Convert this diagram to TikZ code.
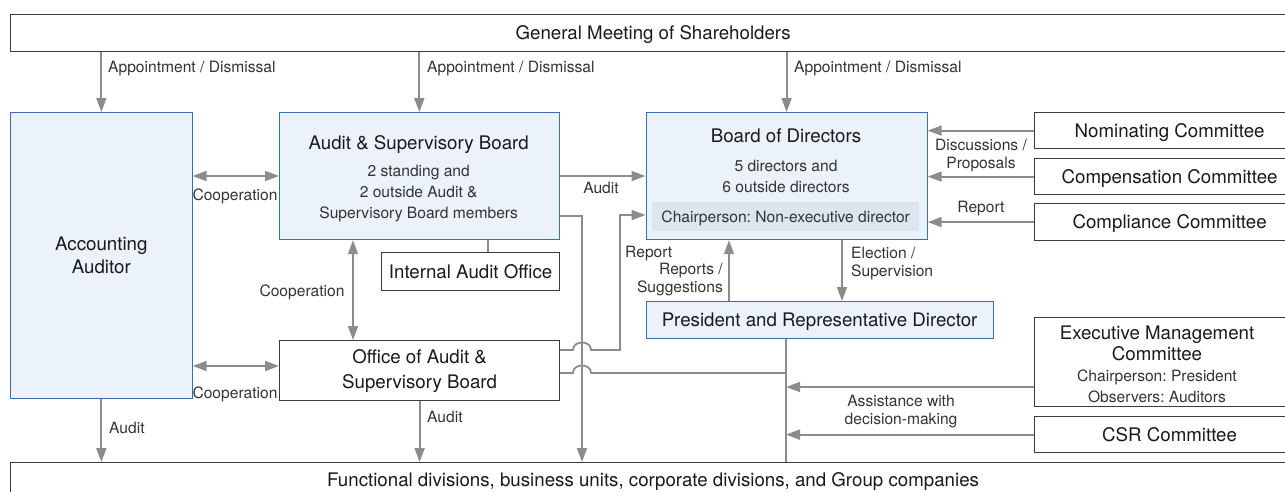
\documentclass[tikz,border=0pt]{standalone}
\usepackage{fontspec}
\setmainfont{TeX Gyre Heros}
\usetikzlibrary{arrows.meta}
\definecolor{linegray}{HTML}{8C8C8C}
\definecolor{boxline}{HTML}{3C3C3C}
\definecolor{blueline}{HTML}{3D6DB5}
\definecolor{bluefill}{HTML}{EBF2FA}
\definecolor{chairfill}{HTML}{DCE6EF}
\definecolor{maintxt}{HTML}{1A1A1A}
\definecolor{smalltxt}{HTML}{333333}
\begin{document}
\frenchspacing
\begin{tikzpicture}[x=1pt,y=-1pt,
  box/.style={draw=boxline, line width=1.2pt, fill=white, inner sep=0pt,
    anchor=north west, align=center, text=maintxt,
    font=\fontsize{18.7}{23}\selectfont},
  bluebox/.style={box, draw=blueline, fill=bluefill},
  maintext/.style={inner sep=0pt, align=center, text=maintxt,
    font=\fontsize{18.7}{23}\selectfont},
  lbl/.style={inner sep=0pt, align=center, text=smalltxt,
    font=\fontsize{15.6}{18}\selectfont},
  onemain/.style={text height=13.4pt, text depth=0pt},
  onesmall/.style={text height=11.2pt, text depth=0pt},
  conn/.style={draw=linegray, line width=1.8pt},
  arr/.style={conn, -{Triangle[length=14pt,width=10pt]}},
  arrboth/.style={conn, {Triangle[length=14pt,width=10pt]}-{Triangle[length=14pt,width=10pt]}},
]
\useasboundingbox (0,0) rectangle (1285,491);
\clip (0,0) rectangle (1285,491);

% ---------- top and bottom bands ----------
\node[box, onemain, minimum width=1285, minimum height=37] (gm) at (10,14) {General Meeting of Shareholders};
\node[box, onemain, minimum width=1285, minimum height=34] (fd) at (10,462)
  {Functional divisions, business units, corporate divisions, and Group companies};

% ---------- auditors ----------
\node[bluebox, minimum width=181.5, minimum height=286] (aa) at (10,112) {Accounting\\Auditor};

\node[bluebox, minimum width=279.5, minimum height=127] (asb) at (279,112) {};
\node[maintext, onemain] (asbtitle) at (418.7,142.5) {Audit \& Supervisory Board};
\node[lbl, font=\fontsize{15.6}{21}\selectfont] (asbmembers) at (418.7,194)
  {2 standing and\\2 outside Audit \&\\Supervisory Board members};

\node[box, onemain, minimum width=178, minimum height=38] (iao) at (381,252) {Internal Audit Office};
\node[box, minimum width=280, minimum height=60, font=\fontsize{18.7}{25}\selectfont] (office) at (279,340)
  {Office of Audit \&\\Supervisory Board};

% ---------- board and executive ----------
\node[bluebox, minimum width=281, minimum height=127] (bod) at (645.5,112) {};
\node[maintext, onemain] (bodtitle) at (786,136) {Board of Directors};
\node[lbl, font=\fontsize{15.6}{21}\selectfont] (bodmembers) at (786,176.5)
  {5 directors and\\6 outside directors};
\node[lbl, onesmall, fill=chairfill, anchor=north west, minimum width=267, minimum height=29] (chair) at (652,202)
  {Chairperson: Non-executive director};

\node[bluebox, onemain, minimum width=347, minimum height=37] (pres) at (645.5,301)
  {President and Representative Director};

% ---------- committees ----------
\node[box, onemain, minimum width=270, minimum height=36] (nom) at (1034,112) {Nominating Committee};
\node[box, onemain, minimum width=270, minimum height=36] (comp) at (1034,158) {Compensation Committee};
\node[box, onemain, minimum width=270, minimum height=37] (compl) at (1034,203) {Compliance Committee};

\node[box, minimum width=270, minimum height=89] (emc) at (1034,317) {};
\node[maintext, font=\fontsize{18.7}{21}\selectfont] (emctitle) at (1157,343) {Executive Management\\Committee};
\node[lbl, font=\fontsize{15.6}{21}\selectfont] (emcmembers) at (1157,386) {Chairperson: President\\Observers: Auditors};
\node[box, onemain, minimum width=270, minimum height=36] (csr) at (1034,416) {CSR Committee};

% ---------- appointment by shareholders ----------
\draw[arr] (aa.north |- gm.south) -- (aa.north);
\draw[arr] (asb.north |- gm.south) -- (asb.north);
\draw[arr] (bod.north |- gm.south) -- (bod.north);
\node[lbl, onesmall, anchor=west] (ap1) at (108,67) {Appointment / Dismissal};
\node[lbl, onesmall, anchor=west] (ap2) at (427,67) {Appointment / Dismissal};
\node[lbl, onesmall, anchor=west] (ap3) at (794,67) {Appointment / Dismissal};

% ---------- cooperation among auditors ----------
\draw[arrboth] (aa.east |- 0,176) -- (asb.west |- 0,176);
\node[lbl, onesmall] (coop1) at (235,195) {Cooperation};
\draw[arrboth] (353,0 |- asb.south) -- (353,0 |- office.north);
\node[lbl, onesmall] (coop2) at (302,291) {Cooperation};
\draw[arrboth] (aa.east |- 0,366) -- (office.west |- 0,366);
\node[lbl, onesmall] (coop3) at (235,393) {Cooperation};

\draw[conn] (488,0 |- asb.south) -- (488,0 |- iao.north);

% ---------- audit lines ----------
\draw[arr] (asb.east |- 0,176) -- (bod.west |- 0,176);
\node[lbl, onesmall] (auditbod) at (601,188) {Audit};
\draw[arr] (asb.east |- 0,216) -| (582,0 |- fd.north);
\draw[arr] (aa.south) -- (aa.south |- fd.north);
\node[lbl, onesmall, anchor=west] (auditaa) at (109,428) {Audit};
\draw[arr] (office.south) -- (office.south |- fd.north);
\node[lbl, onesmall, anchor=west] (auditoffice) at (427,417) {Audit};

% ---------- office reports, hopping over the audit line ----------
\draw[arr] (office.east |- 0,350) -- (573,350)
  .. controls (573,340) and (591,340) .. (591,350)
  -- (620,350) -- (620,215) -- (bod.west |- 0,215);
\node[lbl, onesmall, anchor=west] (report1) at (625,252) {Report};
\draw[conn] (office.east |- 0,373) -- (573,373)
  .. controls (573,363) and (591,363) .. (591,373)
  -- (786,373);

% ---------- board and president ----------
\draw[arr] (729,0 |- pres.north) -- (729,0 |- bod.south);
\node[lbl, anchor=east, align=right] (repsug) at (723,280) {Reports /\\Suggestions};
\draw[arr] (842,0 |- bod.south) -- (842,0 |- pres.north);
\node[lbl, anchor=west, align=left] (elect) at (851,264) {Election /\\Supervision};
\draw[conn] (786,0 |- pres.south) -- (786,0 |- fd.north);

% ---------- committees to the board ----------
\draw[arr] (nom.west) -- (bod.east |- nom.west);
\draw[arr] (comp.west) -- (bod.east |- comp.west);
\draw[arr] (compl.west) -- (bod.east |- compl.west);
\node[lbl] (discuss) at (981,155.5) {Discussions /\\Proposals};
\node[lbl, onesmall] (report2) at (981,207) {Report};

% ---------- executive support ----------
\draw[arr] (emc.west |- 0,387) -- (786,387);
\draw[arr] (csr.west) -- (786,0 |- csr.west);
\node[lbl] (assist) at (901,412) {Assistance with\\decision-making};
\end{tikzpicture}
\end{document}
